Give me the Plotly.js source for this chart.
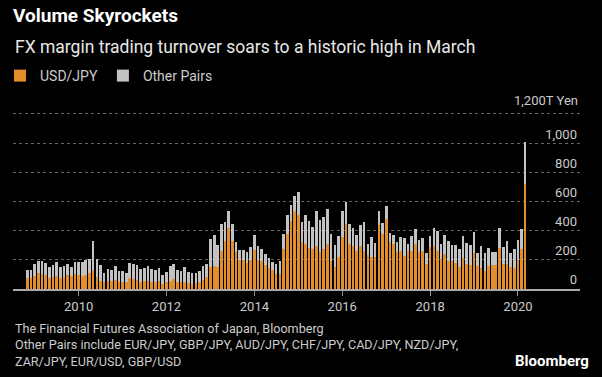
<!DOCTYPE html>
<html>
<head>
<meta charset="utf-8">
<script src="https://cdn.plot.ly/plotly-3.0.1.min.js"></script>
<style>html,body{margin:0;padding:0;background:#000;}#chart{width:602px;height:377px;}</style>
</head>
<body>
<div id="chart"></div>
<script>
// Monthly categories: Nov 2008 .. Mar 2020
const startYear = 2008, startMonth = 11, monthCount = 137;
const months = [];
for (let i = 0; i < monthCount; i++) {
  const k = (startMonth - 1) + i;
  const y = startYear + Math.floor(k / 12);
  const m = (k % 12) + 1;
  months.push(y + '-' + String(m).padStart(2, '0') + '-01');
}

// USD/JPY turnover (trillion yen)
const usdJpy = [
  75,75,86,109,105,98,77,82,86,77,82,98,86,100,98,86,98,109,127,82,
  58,47,57,58,62,51,50,45,75,68,61,50,57,57,45,50,57,34,45,57,
  68,50,45,50,41,34,39,50,61,80,152,158,150,263,330,420,330,252,202,202,
  175,202,265,202,195,162,146,128,100,106,274,375,465,533,510,319,308,280,274,297,
  252,274,308,195,150,218,353,443,308,297,263,297,263,230,222,218,436,375,483,319,
  308,252,263,229,263,263,308,252,263,173,285,297,263,207,240,195,194,180,154,214,
  172,166,244,157,141,125,160,164,164,280,171,171,153,146,198,276,720
];
// Other pairs turnover (trillion yen)
const otherPairs = [
  57,57,84,80,84,79,73,84,98,73,73,72,64,82,84,96,102,98,203,125,
  107,65,80,74,94,73,73,66,100,100,103,86,86,98,91,82,86,64,73,98,
  100,80,78,98,77,73,68,76,94,90,194,213,151,180,128,113,113,72,68,68,
  77,83,106,95,79,78,67,56,73,89,106,131,113,107,157,142,198,185,153,236,
  224,218,238,185,151,142,180,152,135,123,108,139,195,78,131,97,97,79,83,63,
  63,67,90,119,45,97,101,83,85,74,79,123,135,101,131,131,110,124,118,148,
  145,133,144,92,153,119,120,91,91,135,119,155,91,125,137,132,290
];

const yTickVals = [0, 200, 400, 600, 800, 1000, 1200];
const yTickText = ['0', '200', '400', '600', '800', '1,000', ''];
const yTopValue = 1200;
const yTopLabel = '1,200T Yen';
const xTickVals = ['2010-01-01','2012-01-01','2014-01-01','2016-01-01','2018-01-01','2020-01-01'];
const xTickText = ['2010','2012','2014','2016','2018','2020'];

const FONT = 'Roboto, "Liberation Sans", Arial, sans-serif';

const traces = [
  { type: 'bar', name: 'USD/JPY', x: months, y: usdJpy, marker: { color: '#E38E2C' }, hoverinfo: 'x+y' },
  { type: 'bar', name: 'Other Pairs', x: months, y: otherPairs, marker: { color: '#C2C2C2' }, hoverinfo: 'x+y' }
];

const layout = {
  width: 602, height: 377,
  paper_bgcolor: '#000', plot_bgcolor: '#000',
  margin: { l: 13, r: 22, t: 88, b: 88, pad: 0 },
  barmode: 'stack', bargap: 0.22,
  font: { family: FONT, color: '#CCCCCC', size: 13 },
  title: {
    text: '<b>Volume Skyrockets</b>',
    font: { family: FONT, size: 19, color: '#FFFFFF' },
    x: 13 / 602, xref: 'container', xanchor: 'left',
    y: 1 - 9 / 377, yref: 'container', yanchor: 'top'
  },
  showlegend: true,
  legend: {
    orientation: 'h', x: 0, xref: 'container', xanchor: 'left',
    y: 1 - 76 / 377, yref: 'container', yanchor: 'middle',
    font: { family: FONT, size: 14, color: '#CCCCCC' },
    bgcolor: 'rgba(0,0,0,0)', traceorder: 'normal'
  },
  xaxis: {
    type: 'date', range: ['2008-07-04', '2021-05-31'],
    tickvals: xTickVals, ticktext: xTickText,
    ticks: 'outside', ticklen: 5, tickcolor: '#999999', tickwidth: 1,
    showgrid: false, zeroline: false,
    showline: true, linecolor: '#AAAAAA', linewidth: 1.5,
    tickfont: { family: FONT, size: 13, color: '#CCCCCC' },
    fixedrange: true
  },
  yaxis: {
    range: [0, 1350], side: 'right',
    tickvals: yTickVals, ticktext: yTickText,
    ticklabelposition: 'inside top', ticks: '',
    showgrid: true, gridcolor: '#666666', griddash: 'dot', gridwidth: 1,
    zeroline: false, showline: false,
    tickfont: { family: FONT, size: 13, color: '#CCCCCC' },
    fixedrange: true
  },
  annotations: [
    {
      text: yTopLabel,
      xref: 'paper', yref: 'y', x: 1, y: yTopValue, xanchor: 'right', yanchor: 'bottom',
      yshift: 4, showarrow: false, font: { family: FONT, size: 13, color: '#CCCCCC' }
    },
    {
      text: 'FX margin trading turnover soars to a historic high in March',
      xref: 'paper', yref: 'paper', x: 0, y: (289 - 42) / 201, xanchor: 'left', yanchor: 'middle',
      showarrow: false, font: { family: FONT, size: 17.5, color: '#E8E8E8' }
    },
    {
      text: 'The Financial Futures Association of Japan, Bloomberg<br>Other Pairs include EUR/JPY, GBP/JPY, AUD/JPY, CHF/JPY, CAD/JPY, NZD/JPY,<br>ZAR/JPY, EUR/USD, GBP/USD',
      xref: 'paper', yref: 'paper', x: 0, y: (289 - 320) / 201, xanchor: 'left', yanchor: 'top',
      align: 'left', showarrow: false, font: { family: FONT, size: 12.6, color: '#CCCCCC' }
    },
    {
      text: '<b>Bloomberg</b>',
      xref: 'paper', yref: 'paper', x: (591 - 13) / 567, y: (289 - 362) / 201, xanchor: 'right', yanchor: 'middle',
      showarrow: false, font: { family: FONT, size: 15, color: '#FFFFFF' }
    }
  ]
};

Plotly.newPlot('chart', traces, layout, { displayModeBar: false, staticPlot: true });
</script>
</body>
</html>
